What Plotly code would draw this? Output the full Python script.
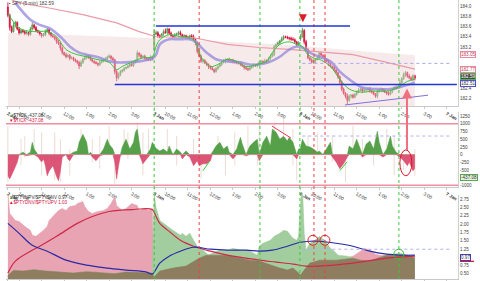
import plotly.graph_objects as go

W, H = 480, 281
L, R = 6, 22
PW = W - L - R
FONT = "Liberation Sans, Arial, sans-serif"

# ---------------- data ----------------
day_names = ["2 Jan", "3 Jan", "6 Jan", "7 Jan"]
hour_labels = ["10:00", "11:00", "12:00", "1:00", "2:00", "3:00"]
hour_offsets = [6, 18, 30, 42, 54, 66]
bars_per_day = 78

price_ticks = [182.2, 182.4, 183.2, 183.4, 183.6, 183.8, 184.0]
tick_ticks = [-1000, -500, -250, 0, 250, 500, 750, 1000, 1250]
ratio_ticks = [0.5, 0.75, 1.25, 1.5, 1.75, 2.0, 2.25, 2.5, 2.75]

day_open = [183.98, 183.15, 183.35]
close_d1 = [183.82, 183.58, 183.50, 183.62, 183.68, 183.55, 183.47, 183.52, 183.50, 183.46,
            183.48, 183.44, 183.55, 183.63, 183.58, 183.52, 183.49, 183.45, 183.42, 183.44,
            183.50, 183.54, 183.47, 183.42, 183.40, 183.36, 183.30, 183.27, 183.18, 183.09,
            183.05, 183.01, 183.04, 182.98, 182.99, 182.95, 182.93, 182.90, 182.83, 182.90,
            182.96, 182.99, 183.03, 183.01, 182.96, 182.92, 182.90, 182.88, 182.86, 182.90,
            182.93, 182.95, 182.97, 183.00, 183.02, 182.98, 182.95, 182.72, 182.60, 182.66,
            182.72, 182.75, 182.78, 182.80, 182.83, 182.86, 182.84, 182.90, 182.93, 183.08,
            183.04, 183.00, 183.02, 182.98, 182.96, 182.95, 183.00, 182.98]
close_d2 = [183.45, 183.48, 183.42, 183.40, 183.45, 183.50, 183.48, 183.55, 183.47, 183.42,
            183.40, 183.44, 183.46, 183.48, 183.44, 183.40, 183.42, 183.39, 183.38, 183.42,
            183.40, 183.35, 183.28, 183.11, 183.02, 182.92, 182.94, 182.89, 182.86, 182.82,
            182.79, 182.76, 182.72, 182.78, 182.82, 182.86, 182.90, 182.92, 182.95, 182.96,
            182.93, 182.94, 182.92, 182.90, 182.89, 182.88, 182.86, 182.83, 182.80, 182.78,
            182.76, 182.80, 182.82, 182.85, 182.84, 182.86, 182.90, 182.92, 182.90, 182.93,
            182.92, 182.98, 183.02, 183.05, 183.21, 183.25, 183.28, 183.32, 183.36, 183.40,
            183.39, 183.38, 183.37, 183.35, 183.34, 183.30, 183.25, 183.28]
close_d3 = [183.40, 183.52, 183.30, 183.15, 182.99, 182.95, 182.90, 182.93, 182.96, 182.99,
            183.08, 183.04, 183.01, 182.96, 182.92, 182.86, 182.82, 182.80, 182.75, 182.70,
            182.62, 182.51, 182.38, 182.30, 182.24, 182.16, 182.24, 182.26, 182.22, 182.28,
            182.32, 182.36, 182.38, 182.34, 182.36, 182.37, 182.38, 182.35, 182.32, 182.28,
            182.24, 182.34, 182.36, 182.38, 182.35, 182.32, 182.30, 182.28, 182.33, 182.38,
            182.41, 182.40, 182.42, 182.50, 182.58, 182.66, 182.70, 182.63, 182.60, 182.56,
            182.64, 182.59]
# wick lengths in cents
wick_up_d1 = [9, 3, 4, 6, 3, 2, 4, 3, 3, 2, 3, 2, 4, 5, 2, 3, 2, 3, 2, 3,
              4, 3, 2, 2, 3, 2, 3, 4, 2, 3, 2, 4, 3, 2, 3, 2, 3, 2, 3, 4,
              3, 4, 3, 2, 3, 2, 2, 3, 2, 4, 3, 2, 3, 3, 4, 2, 3, 2, 3, 4,
              3, 2, 3, 2, 3, 2, 4, 3, 3, 5, 2, 3, 2, 3, 2, 3, 4, 2]
wick_dn_d1 = [4, 6, 3, 2, 4, 3, 4, 2, 3, 3, 2, 3, 2, 3, 4, 3, 2, 3, 4, 2,
              3, 2, 4, 3, 2, 3, 4, 3, 5, 4, 3, 3, 2, 4, 2, 3, 3, 4, 6, 2,
              3, 2, 3, 4, 3, 2, 3, 2, 4, 3, 2, 3, 2, 3, 2, 4, 3, 5, 7, 3,
              3, 2, 3, 2, 2, 3, 2, 3, 2, 3, 4, 3, 2, 3, 3, 2, 3, 4]
wick_up_d2 = [10, 4, 3, 3, 2, 4, 6, 3, 2, 3, 2, 3, 2, 3, 4, 2, 3, 2, 3, 2,
              3, 4, 2, 3, 2, 3, 4, 2, 3, 2, 2, 3, 2, 3, 2, 3, 2, 4, 3, 2,
              3, 2, 3, 2, 3, 2, 3, 4, 2, 3, 2, 3, 2, 3, 2, 3, 2, 3, 2, 4,
              3, 2, 3, 4, 3, 2, 3, 2, 4, 3, 2, 3, 2, 3, 4, 3, 2, 3]
wick_dn_d2 = [3, 2, 4, 3, 2, 3, 2, 4, 3, 2, 3, 2, 3, 4, 2, 3, 2, 3, 2, 4,
              3, 2, 5, 4, 3, 3, 4, 2, 3, 5, 3, 2, 3, 2, 3, 2, 3, 2, 4, 3,
              2, 3, 4, 2, 3, 2, 3, 2, 4, 3, 3, 2, 3, 2, 3, 4, 2, 3, 2, 3,
              4, 2, 3, 2, 3, 2, 3, 4, 2, 3, 2, 3, 4, 3, 2, 3, 4, 2]
wick_up_d3 = [5, 6, 3, 4, 3, 2, 3, 4, 2, 3, 2, 3, 2, 3, 2, 3, 4, 2, 3, 2,
              2, 3, 4, 3, 2, 5, 3, 2, 3, 2, 3, 4, 2, 3, 3, 2, 3, 4, 2, 3,
              2, 3, 2, 3, 2, 3, 2, 4, 3, 2, 3, 4, 3, 5, 3, 4, 3, 2, 4, 3,
              3, 2]
wick_dn_d3 = [3, 2, 5, 4, 3, 3, 2, 3, 4, 2, 3, 2, 3, 4, 2, 3, 2, 3, 2, 3,
              4, 5, 4, 3, 4, 8, 3, 4, 3, 2, 3, 2, 3, 4, 2, 3, 3, 4, 3, 2,
              3, 4, 3, 2, 3, 2, 4, 3, 2, 3, 2, 3, 2, 3, 3, 2, 4, 3, 3, 2,
              3, 4]

green_ma_x = [0, 6, 13, 21, 26, 31, 37, 42, 47, 54, 58, 61, 67, 72, 77, 79, 81, 86, 92, 97,
              100, 103, 108, 112, 117, 122, 127, 133, 138, 141, 145, 150, 154, 157, 160, 165,
              166, 172, 177, 182, 188, 195, 202, 208, 213, 217]
green_ma_v = [183.86, 183.57, 183.50, 183.50, 183.40, 183.15, 183.05, 183.01, 182.96, 182.90,
              182.76, 182.82, 182.92, 182.99, 183.01, 183.21, 183.34, 183.44, 183.40, 183.38,
              183.30, 183.01, 182.82, 182.86, 182.96, 182.92, 182.82, 182.86, 182.92, 183.09,
              183.25, 183.30, 183.25, 183.21, 183.05, 182.96, 182.96, 182.82, 182.57, 182.38,
              182.32, 182.34, 182.34, 182.41, 182.53, 182.57]
lav_ma_x = [4, 12, 17, 22, 28, 33, 38, 42, 49, 54, 58, 63, 70, 76, 77, 79, 81, 86, 91, 97,
            100, 106, 111, 117, 124, 129, 134, 139, 145, 150, 154, 157, 161, 166, 172, 177,
            182, 189, 197, 204, 211, 217]
lav_ma_v = [184.06, 183.73, 183.63, 183.57, 183.40, 183.21, 183.09, 183.05, 182.99, 182.92,
            182.90, 182.90, 182.92, 182.96, 182.97, 183.05, 183.25, 183.35, 183.35, 183.35,
            183.30, 183.09, 182.96, 182.92, 182.90, 182.86, 182.86, 182.90, 183.01, 183.15,
            183.21, 183.19, 183.09, 183.01, 182.92, 182.72, 182.57, 182.41, 182.38, 182.38,
            182.44, 182.51]
pink_ma_x = [0, 5, 22, 40, 58, 70, 79, 99, 117, 134, 152, 166, 184, 202, 214, 217]
pink_ma_v = [184.16, 184.07, 183.96, 183.83, 183.67, 183.50, 183.40, 183.38, 183.25, 183.19,
             183.15, 183.11, 183.05, 182.90, 182.80, 182.77]
band_x = [0, 40, 80, 116, 152, 166, 184, 217]
band_v = [183.48, 183.43, 183.37, 183.30, 183.24, 183.19, 183.13, 183.04]

tick_x = [0, 1, 3, 5, 6, 8, 10, 12, 13, 14, 16, 18, 19, 20, 21, 22, 24, 26, 27, 28,
          29, 31, 32, 33, 35, 37, 38, 40, 42, 43, 44, 45, 47, 49, 51, 53, 54, 56, 57, 58,
          59, 60, 61, 63, 65, 67, 68, 69, 70, 71, 72, 74, 76, 77,
          78, 79, 81, 83, 85, 86, 88, 90, 92, 93, 95, 97, 99, 101, 102, 104, 106, 108, 109, 111,
          113, 115, 117, 118, 120, 122, 124, 125, 127, 129, 131, 133, 134, 136, 138, 140, 141, 143, 145, 147,
          149, 150, 152, 154, 155,
          156, 157, 159, 161, 163, 165, 166, 168, 170, 172, 173, 175, 177, 179, 181, 182, 184, 186, 188, 189,
          191, 193, 195, 196, 197, 198, 200, 202, 204, 205, 207, 209, 211, 213, 214, 216, 217]
tick_v = [-690, -790, -530, -250, 0, 80, -40, 80, 400, 180, -80, -240, -140, -360, -690, -530, -360, -720, -850, -530,
          -80, 0, -140, -200, 80, 120, 400, 660, 400, 0, 80, -80, -200, -40, 180, 500, 340, 180, -240, -790,
          -360, -40, 250, 500, 180, 400, 730, 830, 400, -140, -300, -140, 180, 400,
          300, 200, 120, 180, 80, 280, 0, 180, 80, -140, 120, -80, -360, -200, -360, -300, -300, -200, 80, 280,
          400, 180, 280, 80, -140, 180, 560, 340, -40, 280, 400, 500, -200, 400, 600, 280, 830, 730, 500, 600,
          440, 560, 400, -140, 180,
          200, 500, 280, 250, 180, 80, 120, 0, 180, 400, -80, -240, -460, -300, -80, 280, 180, 500, 120, -80,
          340, 440, 180, 500, 760, 400, -80, 180, 600, 280, 80, -80, -200, -360, -240, -530, -437]
# intrabar TICK extremes (faint bars)
tick_ext_x = [0, 7, 9, 14, 18, 25, 28, 33, 39, 45, 49, 54, 57, 62, 64, 69, 72, 75,
              85, 90, 99, 103, 112, 116, 121, 128, 133, 134, 142, 147, 152, 154, 160, 165,
              173, 180, 184, 189, 195, 202, 206, 211, 217]
tick_ext_hi = [930, 500, 600, 830, 720, 720, 500, 180, 830, 500, 610, 940, 0, 830, 720, 1046, 720, 830,
               830, 614, 507, 0, 614, 0, 723, 937, 0, 1150, 1046, 1150, 830, 0, 614, 723,
               614, 0, 937, 507, 0, 830, 614, 0, 180]
tick_ext_lo = [-880, -350, -100, 0, -680, -840, -890, -680, 0, -250, -460, 0, -950, 0, -140, 0, -680, 0,
               0, -355, 0, -780, 0, -678, -355, 0, -355, 0, 0, 0, -355, -840, 0, 0,
               -245, -890, 0, 0, -355, 0, -678, -500, -678]

dnup_x = [0, 1, 4, 6, 9, 12, 13, 15, 17, 19, 21, 22, 24, 27, 29, 31, 33, 36, 37, 40,
          41, 43, 45, 48, 51, 53, 55, 57, 58, 61, 63, 66, 69, 70, 73, 75, 77,
          78, 81, 88, 95, 102, 106, 111, 117, 124, 129, 134, 140, 145, 149, 152, 155,
          156, 158, 161, 165, 166, 175, 184, 188, 190, 193, 196, 198, 202, 213, 217]
dnup_v = [2.95, 2.32, 2.11, 2.08, 1.93, 1.81, 1.66, 1.63, 1.72, 1.81, 1.93, 2.11, 2.23, 2.41, 2.47, 2.41, 2.53, 2.56, 2.62, 2.68,
          2.53, 2.38, 2.32, 2.38, 2.41, 2.47, 2.62, 2.83, 2.56, 2.41, 2.47, 2.62, 2.56, 2.41, 2.47, 2.41, 2.47,
          0.40, 0.58, 0.67, 0.73, 0.97, 1.06, 1.12, 1.06, 0.97, 0.91, 0.88, 0.76, 0.67, 0.61, 0.67, 0.52,
          0.45, 0.61, 0.82, 0.88, 0.91, 0.91, 1.03, 1.18, 1.27, 1.21, 1.09, 1.06, 1.06, 1.06, 1.03]
updn_x = [0, 3, 8, 14, 20, 28, 35, 42, 50, 57, 63, 70, 77,
          78, 79, 81, 85, 88, 92, 93, 95, 97, 99, 101, 104, 107, 109, 113, 117, 120, 124, 128, 131,
          133, 134, 136, 140, 142, 145, 147, 149, 150, 152, 154, 155,
          156, 157, 158, 159, 161, 163, 165, 166, 169, 172, 174, 176, 181, 184, 188, 193, 197, 202, 209, 213, 217]
updn_v = [0.45, 0.60, 0.58, 0.62, 0.58, 0.55, 0.52, 0.56, 0.54, 0.50, 0.55, 0.53, 0.52,
          2.90, 2.50, 2.11, 1.93, 1.81, 1.66, 1.72, 1.63, 1.72, 1.51, 1.33, 1.21, 1.06, 1.12, 1.21, 1.21, 1.27, 1.21, 1.21, 1.12,
          1.06, 1.33, 1.42, 1.51, 1.63, 1.72, 1.81, 1.78, 1.72, 1.57, 1.51, 1.63,
          2.60, 3.20, 1.72, 1.21, 1.42, 1.48, 1.57, 1.63, 1.51, 1.27, 1.18, 1.06, 1.03, 0.97, 0.91, 0.88, 0.97, 1.06, 1.12, 1.06, 0.97]
both_x = [0, 3, 8, 14, 20, 28, 35, 42, 50, 57, 63, 70, 77,
          78, 81, 88, 95, 102, 106, 111, 117, 124, 129, 134, 140, 145, 149, 152, 155,
          156, 158, 161, 165, 166, 175, 184, 188, 193, 197, 202, 209, 213, 217]
both_v = [0.45, 0.60, 0.58, 0.62, 0.58, 0.55, 0.52, 0.56, 0.54, 0.50, 0.55, 0.53, 0.52,
          0.40, 0.58, 0.67, 0.73, 0.97, 1.06, 1.06, 1.06, 0.97, 0.91, 0.88, 0.76, 0.67, 0.61, 0.67, 0.52,
          0.45, 0.61, 0.82, 0.88, 0.91, 0.91, 0.97, 0.91, 0.88, 0.97, 1.06, 1.06, 1.06, 0.97]
red_x = [0, 4, 12, 17, 26, 37, 45, 54, 67, 77, 79, 81, 86, 92, 99, 108, 117, 127, 134, 143, 152,
         159, 166, 184, 202, 217]
red_v = [0.52, 0.88, 1.18, 1.33, 1.63, 2.02, 2.23, 2.38, 2.44, 2.44, 2.23, 2.02, 1.78, 1.51, 1.33, 1.18, 1.06, 0.97, 0.91, 0.85, 0.79,
         0.73, 0.73, 0.82, 0.97, 1.03]
blue_x = [0, 6, 13, 21, 31, 42, 53, 63, 74, 77, 81, 86, 92, 99, 108, 117, 127, 134, 141, 149, 156,
          161, 166, 175, 184, 193, 202, 209, 217]
blue_v = [2.02, 1.72, 1.36, 1.18, 0.91, 0.76, 0.67, 0.61, 0.55, 0.49, 0.82, 1.03, 1.18, 1.30, 1.24, 1.21, 1.21, 1.18, 1.21, 1.33, 1.45,
          1.48, 1.48, 1.42, 1.33, 1.18, 1.09, 1.06, 1.06]

# ---------------- derived candles ----------------
closes, opens, highs, lows = [], [], [], []
for o0, cl, wu, wd in zip(day_open, [close_d1, close_d2, close_d3],
                          [wick_up_d1, wick_up_d2, wick_up_d3],
                          [wick_dn_d1, wick_dn_d2, wick_dn_d3]):
    ops = [o0] + cl[:-1]
    for o, c, u, d in zip(ops, cl, wu, wd):
        opens.append(o)
        closes.append(c)
        highs.append(max(o, c) + u / 100)
        lows.append(min(o, c) - d / 100)
bars = list(range(len(closes)))


def px(xp):
    return (xp - L) / PW


def py(yp):
    return 1 - yp / H


fig = go.Figure()

# ---- panel 1 ----
fig.add_trace(go.Scatter(x=band_x, y=band_v, mode="lines", line=dict(width=0),
                         fill="tozeroy", fillcolor="rgba(236,205,205,0.42)",
                         xaxis="x", yaxis="y", hoverinfo="skip"))
fig.add_trace(go.Scatter(x=pink_ma_x, y=pink_ma_v, mode="lines",
                         line=dict(color="#eb9aa8", width=1.2), xaxis="x", yaxis="y"))
fig.add_trace(go.Scatter(x=lav_ma_x, y=lav_ma_v, mode="lines", line_shape="spline",
                         line=dict(color="rgba(145,135,220,0.75)", width=2.6), xaxis="x", yaxis="y"))
fig.add_trace(go.Scatter(x=green_ma_x, y=green_ma_v, mode="lines", line_shape="spline",
                         line=dict(color="#38c43a", width=1), xaxis="x", yaxis="y"))
fig.add_trace(go.Candlestick(
    x=bars, open=opens, high=highs, low=lows, close=closes,
    increasing=dict(line=dict(color="#5a9650", width=0.9), fillcolor="#a5d38f"),
    decreasing=dict(line=dict(color="#d8123e", width=0.9), fillcolor="#e2153f"),
    whiskerwidth=0, xaxis="x", yaxis="y", hoverinfo="skip"))

# ---- panel 2 ----
ext_x, ext_y = [], []
for xb, hi, lo in zip(tick_ext_x, tick_ext_hi, tick_ext_lo):
    ext_x += [xb, xb, None]
    ext_y += [lo, hi, None]
fig.add_trace(go.Scatter(x=ext_x, y=ext_y, mode="lines", line=dict(color="#ecdcd3", width=1),
                         xaxis="x2", yaxis="y2", hoverinfo="skip"))
tick_pos = [max(v, 0) for v in tick_v]
tick_neg = [min(v, 0) for v in tick_v]
fig.add_trace(go.Scatter(x=tick_x, y=tick_pos, mode="lines", line=dict(color="#4e9a44", width=0.5),
                         fill="tozeroy", fillcolor="#56a04a", xaxis="x2", yaxis="y2"))
fig.add_trace(go.Scatter(x=tick_x, y=tick_neg, mode="lines", line=dict(color="#d84a6c", width=0.5),
                         fill="tozeroy", fillcolor="#dc5476", xaxis="x2", yaxis="y2"))

# ---- panel 3 ----
fig.add_trace(go.Scatter(x=dnup_x, y=dnup_v, mode="lines", line=dict(color="#e7a1b1", width=0.5),
                         fill="tozeroy", fillcolor="#e9a4b3", xaxis="x3", yaxis="y3"))
fig.add_trace(go.Scatter(x=updn_x, y=updn_v, mode="lines", line=dict(color="#9cc999", width=0.5),
                         fill="tozeroy", fillcolor="#a2cd9e", xaxis="x3", yaxis="y3"))
fig.add_trace(go.Scatter(x=both_x, y=both_v, mode="lines", line=dict(color="#8c7a5d", width=0.5),
                         fill="tozeroy", fillcolor="#8e7d5f", xaxis="x3", yaxis="y3"))
fig.add_trace(go.Scatter(x=red_x, y=red_v, mode="lines", line_shape="spline",
                         line=dict(color="#d02848", width=1.2), xaxis="x3", yaxis="y3"))
fig.add_trace(go.Scatter(x=blue_x, y=blue_v, mode="lines", line_shape="spline",
                         line=dict(color="#2a2aa6", width=1.2), xaxis="x3", yaxis="y3"))

# ---------------- axes ----------------
tv, tt = [], []
for d, name in enumerate(day_names):
    base = bars_per_day * d
    tv.append(base)
    tt.append("<b>" + name + "</b>")
    if d < len(day_names) - 1:
        for off, lab in zip(hour_offsets, hour_labels):
            tv.append(base + off)
            tt.append(lab)

xcommon = dict(range=[-1, 240], domain=[0, 1], showgrid=False, zeroline=False,
               showline=True, linecolor="#c9c9c9", linewidth=1,
               ticks="outside", ticklen=2, tickcolor="#c9c9c9",
               tickvals=tv, ticktext=tt, tickfont=dict(size=4.6, color="#333", family=FONT),
               fixedrange=True)
ycommon = dict(side="right", showgrid=False, zeroline=False, showline=True,
               linecolor="#d0d0d0", linewidth=1, ticks="",
               tickfont=dict(size=4.6, color="#444", family=FONT), fixedrange=True)

fig.update_layout(
    width=W, height=H, margin=dict(l=L, r=R, t=0, b=0),
    paper_bgcolor="white", plot_bgcolor="white", showlegend=False, hovermode=False,
    font=dict(family=FONT),
    xaxis=dict(xcommon, anchor="y", rangeslider=dict(visible=False)),
    xaxis2=dict(xcommon, anchor="y2", matches="x"),
    xaxis3=dict(xcommon, anchor="y3", matches="x", showticklabels=False),
    yaxis=dict(ycommon, domain=[1 - 107 / H, 1], range=[182.045, 184.116], anchor="x",
               tickvals=price_ticks, ticktext=["%.1f" % v for v in price_ticks]),
    yaxis2=dict(ycommon, domain=[1 - 188 / H, 1 - 113 / H], range=[-1042, 1378], anchor="x2",
                tickvals=tick_ticks, ticktext=[str(v) for v in tick_ticks]),
    yaxis3=dict(ycommon, domain=[0, 1 - 196 / H], range=[0.34, 2.89], anchor="x3",
                tickvals=ratio_ticks, ticktext=["%.2f" % v for v in ratio_ticks]),
)

# ---------------- shapes ----------------
shapes = []
vlines = [(78, "#3cc83c"), (102, "#f04040"), (134.4, "#3cc83c"), (155.7, "#3cc83c"),
          (163.2, "#f04040"), (169.1, "#f04040"), (208.5, "#3cc83c")]
for xb, col in vlines:
    shapes.append(dict(type="line", xref="x", yref="paper", x0=xb, x1=xb, y0=0, y1=1,
                       line=dict(color=col, width=1, dash="dot"), layer="above"))
shapes.append(dict(type="line", xref="x", yref="y", x0=78.9, x1=182.4, y0=183.61, y1=183.61,
                   line=dict(color="#2236d8", width=1.5)))
shapes.append(dict(type="line", xref="x", yref="y", x0=57, x1=239.4, y0=182.47, y1=182.47,
                   line=dict(color="#2236d8", width=1.5)))
shapes.append(dict(type="line", xref="x", yref="y", x0=179.7, x1=224, y0=182.07, y1=182.26,
                   line=dict(color="#8070e0", width=1)))
shapes.append(dict(type="line", xref="x", yref="y", x0=157, x1=236, y0=182.88, y1=182.88,
                   line=dict(color="#a8a8f0", width=1, dash="dot")))
for yv in (1000, -1000):
    shapes.append(dict(type="line", xref="paper", yref="y2", x0=0, x1=1, y0=yv, y1=yv,
                       line=dict(color="#ef8ea0", width=1.5)))
shapes.append(dict(type="line", xref="x2", yref="y2", x0=157, x1=236, y0=604, y1=604,
                   line=dict(color="#b0b0f0", width=1, dash="dot")))
shapes.append(dict(type="line", xref="x2", yref="y2", x0=104, x1=107.7, y0=-526, y1=-203,
                   line=dict(color="#33cc33", width=1)))
shapes.append(dict(type="line", xref="x2", yref="y2", x0=177, x1=180.8, y0=-526, y1=-236,
                   line=dict(color="#33cc33", width=1)))
shapes.append(dict(type="line", xref="x2", yref="y2", x0=140.8, x1=150.9, y0=927, y1=540,
                   line=dict(color="#ee3355", width=1)))
shapes.append(dict(type="circle", xref="x2", yref="y2", x0=209, x1=215.4, y0=-688, y1=152,
                   line=dict(color="#e0162a", width=1)))
shapes.append(dict(type="line", xref="x3", yref="y3", x0=157, x1=236, y0=1.24, y1=1.24,
                   line=dict(color="#b0b0f0", width=1, dash="dot")))
for x0, x1, y0, y1, col in [(160, 165.3, 1.36, 1.66, "#e02020"), (166.4, 171.7, 1.36, 1.66, "#e02020"),
                            (205.8, 211.1, 0.94, 1.24, "#30c030")]:
    shapes.append(dict(type="circle", xref="x3", yref="y3", x0=x0, x1=x1, y0=y0, y1=y1,
                       line=dict(color=col, width=1)))
# red underline of the ratio value box (second series value hidden behind)
shapes.append(dict(type="line", xref="paper", yref="y3", x0=1 + 2 / PW, x1=1 + 16 / PW, y0=0.87, y1=0.87,
                   line=dict(color="#d8123e", width=1.2)))
fig.update_layout(shapes=shapes)

# ---------------- annotations ----------------
ann = []
ann.append(dict(x=212.8, y=182.39, xref="x", yref="y", ax=0, ay=63, text="", showarrow=True,
                arrowhead=2, arrowsize=1, arrowwidth=2, arrowcolor="#f07080"))
ann.append(dict(x=157.3, y=183.68, xref="x", yref="y", ax=0, ay=-6, text="", showarrow=True,
                arrowhead=2, arrowsize=0.8, arrowwidth=2, arrowcolor="#e01a2a"))
ann.append(dict(x=px(7), y=py(4), xref="paper", yref="paper", xanchor="left", yanchor="middle",
                text="<span style='color:#555'>▪</span> SPY (5 min) 182.59", showarrow=False,
                font=dict(size=4.8, color="#444", family=FONT)))
ann.append(dict(x=px(7), y=py(116.5), xref="paper", yref="paper", xanchor="left", yanchor="middle",
                text="<span style='color:#4e9a44'>▲</span>$TICK -437.08", showarrow=False,
                font=dict(size=4.6, color="#333", family=FONT)))
ann.append(dict(x=px(7), y=py(121.5), xref="paper", yref="paper", xanchor="left", yanchor="middle",
                text="▼$TICK -437.08", showarrow=False,
                font=dict(size=4.6, color="#d8123e", family=FONT)))
ann.append(dict(x=px(7), y=py(199), xref="paper", yref="paper", xanchor="left", yanchor="middle",
                text="<span style='color:#4e9a44'>▲</span>$PTYUPV/$PTYDNV 0.97", showarrow=False,
                font=dict(size=4.6, color="#333", family=FONT)))
ann.append(dict(x=px(7), y=py(204), xref="paper", yref="paper", xanchor="left", yanchor="middle",
                text="▲$PTYDNV/$PTYUPV 1.03", showarrow=False,
                font=dict(size=4.6, color="#d8123e", family=FONT)))
boxes = [("y", 183.05, "183.05", "#ffffff", "#e88a9a", "#c04060"),
         ("y", 182.77, "182.77", "#ffffff", "#e88a9a", "#c04060"),
         ("y", 182.62, "182.59", "#4a4a4a", "#4caf50", "#ffffff"),
         ("y", 182.48, "182.51", "#ffffff", "#5050d0", "#333333"),
         ("y2", -730, "-437.08", "#e4f2de", "#5aa550", "#333333"),
         ("y3", 0.99, "0.97", "#ffffff", "#4040b0", "#333333")]
for yr, yv, txt, bg, bc, fc in boxes:
    ann.append(dict(x=1 + 2 / PW, y=yv, xref="paper", yref=yr, xanchor="left", yanchor="middle",
                    text=txt, showarrow=False, bgcolor=bg, bordercolor=bc, borderwidth=1, borderpad=0,
                    font=dict(size=4.6, color=fc, family=FONT)))
fig.update_layout(annotations=ann)

fig.write_html("out.html")
